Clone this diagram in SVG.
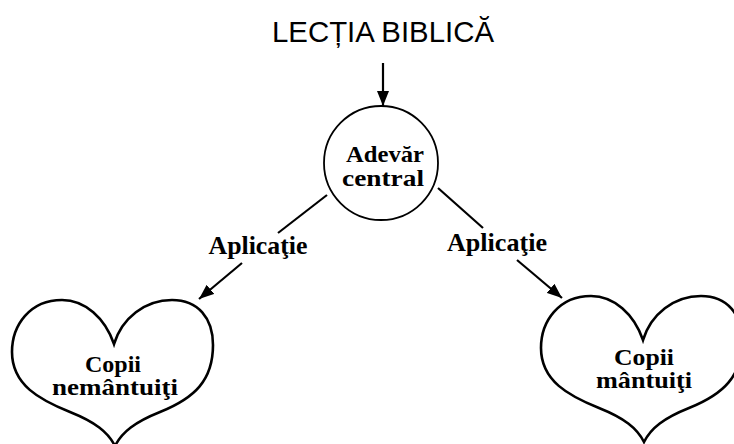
<svg xmlns="http://www.w3.org/2000/svg" width="734" height="444" viewBox="0 0 734 444">
<defs>
<style>
.title{font-family:"Liberation Sans",Arial,sans-serif;font-size:29px;fill:#000}
.lbl{font-family:"Liberation Serif","Times New Roman",serif;font-weight:bold;fill:#000;text-anchor:middle}
.ln{stroke:#000;stroke-width:2.2;fill:none}
.shape{stroke:#000;fill:#fff}
</style>
<marker id="ah" markerUnits="userSpaceOnUse" markerWidth="16" markerHeight="12" refX="15" refY="6" orient="auto">
<path d="M0,0 L15,6 L0,12 Z" fill="#000"/>
</marker>
</defs>
<rect width="734" height="444" fill="#fff"/>
<g id="title">
<text class="title" x="272" y="42" textLength="222" lengthAdjust="spacingAndGlyphs">LECȚIA BIBLICĂ</text>
</g>
<g id="connectors">
<line class="ln" x1="383" y1="63" x2="383" y2="106" marker-end="url(#ah)"/>
<line class="ln" x1="327" y1="195" x2="278" y2="233"/>
<line class="ln" x1="242" y1="263" x2="199" y2="299" marker-end="url(#ah)"/>
<line class="ln" x1="438" y1="188" x2="483" y2="228"/>
<line class="ln" x1="517" y1="260" x2="562" y2="298" marker-end="url(#ah)"/>
<text class="lbl" x="258" y="254" font-size="25" textLength="99" lengthAdjust="spacingAndGlyphs">Aplicaţie</text>
<text class="lbl" x="497" y="251" font-size="25" textLength="100" lengthAdjust="spacingAndGlyphs">Aplicaţie</text>
</g>
<g id="adevar">
<circle class="shape" cx="381" cy="163" r="57" stroke-width="1.8"/>
<text class="lbl" x="385" y="162" font-size="23" textLength="78" lengthAdjust="spacingAndGlyphs">Adevăr</text>
<text class="lbl" x="383" y="186" font-size="23" textLength="82" lengthAdjust="spacingAndGlyphs">central</text>
</g>
<g id="nemantuiti">
<path class="shape" stroke-width="2.6" d="M114 344 C105 318,85 300,62 300 C30 300,12 325,12 352 C12 385,40 400,70 412 C95 422,108 432,115 446 C122 432,135 422,160 412 C195 398,213 380,213 345 C213 318,198 300,172 300 C145 300,122 318,114 344 Z"/>
<text class="lbl" x="113" y="372" font-size="23" textLength="56" lengthAdjust="spacingAndGlyphs">Copii</text>
<text class="lbl" x="115" y="395" font-size="23" textLength="126" lengthAdjust="spacingAndGlyphs">nemântuiţi</text>
</g>
<g id="mantuiti">
<path class="shape" stroke-width="2.6" transform="translate(529,-4)" d="M114 344 C105 318,85 300,62 300 C30 300,12 325,12 352 C12 385,40 400,70 412 C95 422,108 432,115 446 C122 432,135 422,160 412 C195 398,213 380,213 345 C213 318,198 300,172 300 C145 300,122 318,114 344 Z"/>
<text class="lbl" x="644" y="365" font-size="23" textLength="60" lengthAdjust="spacingAndGlyphs">Copii</text>
<text class="lbl" x="644" y="388" font-size="23" textLength="96" lengthAdjust="spacingAndGlyphs">mântuiţi</text>
</g>
</svg>
